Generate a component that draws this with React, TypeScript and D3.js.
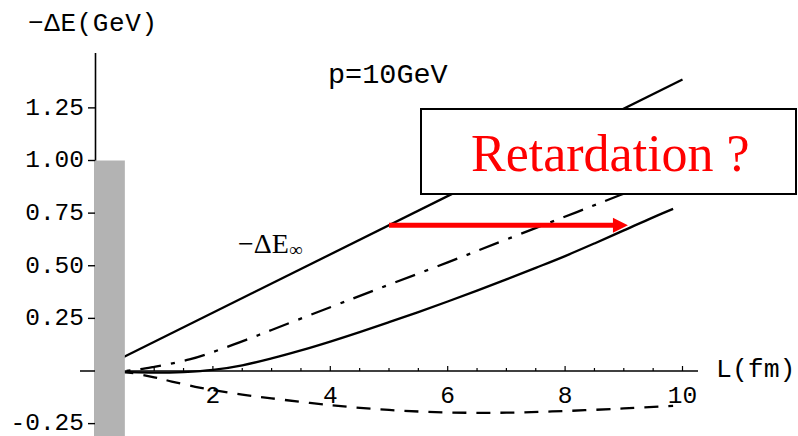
import React from "react";
import * as d3 from "d3";

// Energy loss -ΔE (GeV) versus path length L (fm), p = 10 GeV
const lInf: number[] = [0, 10];
const eInf: number[] = [0, 1.385];

const lDashDot: number[] = [0, 0.5, 1.0, 1.6, 2.1, 2.63, 3, 4, 4.85, 6, 7, 8.2, 8.94, 10];
const eDashDot: number[] = [0, 0.0, 0.02, 0.055, 0.1, 0.155, 0.195, 0.303, 0.394, 0.516, 0.625, 0.755, 0.836, 0.95];

const lSolid: number[] = [0, 0.5, 1, 1.5, 2, 2.5, 3, 3.5, 4, 4.5, 5, 5.5, 6, 6.5, 7, 7.5, 8, 8.5, 9, 9.5, 9.84];
const eSolid: number[] = [0, -0.005, -0.008, -0.005, 0.005, 0.027, 0.06, 0.098, 0.14, 0.185, 0.232, 0.28, 0.33, 0.382, 0.435, 0.49, 0.546, 0.606, 0.668, 0.73, 0.77];

const lDashed: number[] = [0, 0.5, 1, 1.3, 1.7, 2, 2.5, 3, 4, 5, 6, 7, 8, 9, 9.84];
const eDashed: number[] = [0, -0.005, -0.03, -0.05, -0.075, -0.09, -0.112, -0.13, -0.162, -0.185, -0.197, -0.198, -0.19, -0.178, -0.166];

const yTicks: number[] = [-0.25, 0.25, 0.5, 0.75, 1.0, 1.25];
const xTicks: number[] = [2, 4, 6, 8, 10];
const xMinorTicks: number[] = d3.range(1, 10.01, 0.5);

// shaded region near the origin
const barL: number[] = [0, 0.5];
const barTop = 1.0;

// retardation arrow: from the -ΔE∞ line at L=5 to the full curve
const arrowL: number[] = [5, 9.07];

const W = 798;
const H = 436;

export default function App() {
  const x = d3.scaleLinear().domain([0, 10]).range([95.5, 682.5]);
  const y = d3.scaleLinear().domain([0, 1]).range([371, 160.5]);

  const mk = (ls: number[], es: number[]) =>
    d3
      .line<number>()
      .x((_, i) => x(ls[i]))
      .y((_, i) => y(es[i]))
      .curve(d3.curveCatmullRom.alpha(0.5))(ls) as string;

  const mono = "'Liberation Mono', 'Courier New', monospace";
  const serif = "'Liberation Serif', 'Times New Roman', serif";
  const tickFont = 24.5;

  const arrowY = y((eInf[1] * arrowL[0]) / lInf[1]);
  const ax0 = x(arrowL[0]);
  const ax1 = x(arrowL[1]);

  return (
    <svg
      width={W}
      height={H}
      style={{ position: "absolute", left: 0, top: 0, background: "#fff" }}
    >
      <rect x={0} y={0} width={W} height={H} fill="#fff" />

      {/* curves */}
      <g fill="none" stroke="#000" strokeWidth={2.3}>
        <path d={mk(lInf, eInf)} />
        <path d={mk(lDashDot, eDashDot)} strokeDasharray="21 10 4 10" />
        <path d={mk(lSolid, eSolid)} />
        <path d={mk(lDashed, eDashed)} strokeDasharray="14 10" />
      </g>

      {/* x axis */}
      <line x1={80} x2={698} y1={y(0)} y2={y(0)} stroke="#000" strokeWidth={1.6} />
      {xMinorTicks.map((t) => (
        <line
          key={"m" + t}
          x1={x(t)}
          x2={x(t)}
          y1={y(0)}
          y2={y(0) - (Number.isInteger(t / 2) ? 5 : 3)}
          stroke="#000"
          strokeWidth={1.2}
        />
      ))}
      {xTicks.map((t) => (
        <text
          key={"xt" + t}
          x={x(t)}
          y={403}
          textAnchor="middle"
          fontFamily={mono}
          fontSize={tickFont}
          fill="#000"
        >
          {t}
        </text>
      ))}
      <text x={716} y={377} fontFamily={mono} fontSize={26.5} fill="#000">
        L(fm)
      </text>

      {/* y axis */}
      <line x1={95.5} x2={95.5} y1={53} y2={H} stroke="#000" strokeWidth={1.6} />
      {yTicks.map((t) => (
        <g key={"yt" + t}>
          <line x1={88} x2={95.5} y1={y(t)} y2={y(t)} stroke="#000" strokeWidth={1.4} />
          <text
            x={84}
            y={y(t)}
            dy="0.28em"
            textAnchor="end"
            fontFamily={mono}
            fontSize={tickFont}
            fill="#000"
          >
            {d3.format(".2f")(t).replace("−", "-")}
          </text>
        </g>
      ))}
      <text
        x={28}
        y={31}
        fontFamily={mono}
        fontSize={26}
        fill="#000"
        textLength={129}
        lengthAdjust="spacing"
      >
        −ΔE(GeV)
      </text>

      {/* shaded bar */}
      <rect
        x={x(barL[0]) - 0.5}
        y={y(barTop)}
        width={x(barL[1]) - x(barL[0]) + 0.5}
        height={H - y(barTop)}
        fill="#b3b3b3"
      />

      <text x={328} y={83} fontFamily={mono} fontSize={28.5} fill="#000">
        p=10GeV
      </text>

      {/* curve label */}
      <text x={238} y={253} fontFamily={serif} fontSize={28} fill="#000">
        −ΔE
        <tspan fontSize={19} dy={3}>∞</tspan>
      </text>

      {/* annotation box */}
      <rect x={421} y={109} width={375} height={85} fill="#fff" stroke="#000" strokeWidth={2} />
      <text x={471} y={171} fontFamily={serif} fontSize={52} fill="#ff0000">
        Retardation ?
      </text>

      {/* arrow */}
      <line x1={ax0} x2={ax1 - 12} y1={arrowY} y2={arrowY} stroke="#ff0000" strokeWidth={5} />
      <path
        d={`M${ax1},${arrowY} L${ax1 - 15},${arrowY - 7.5} L${ax1 - 15},${arrowY + 7.5} Z`}
        fill="#ff0000"
      />
    </svg>
  );
}
